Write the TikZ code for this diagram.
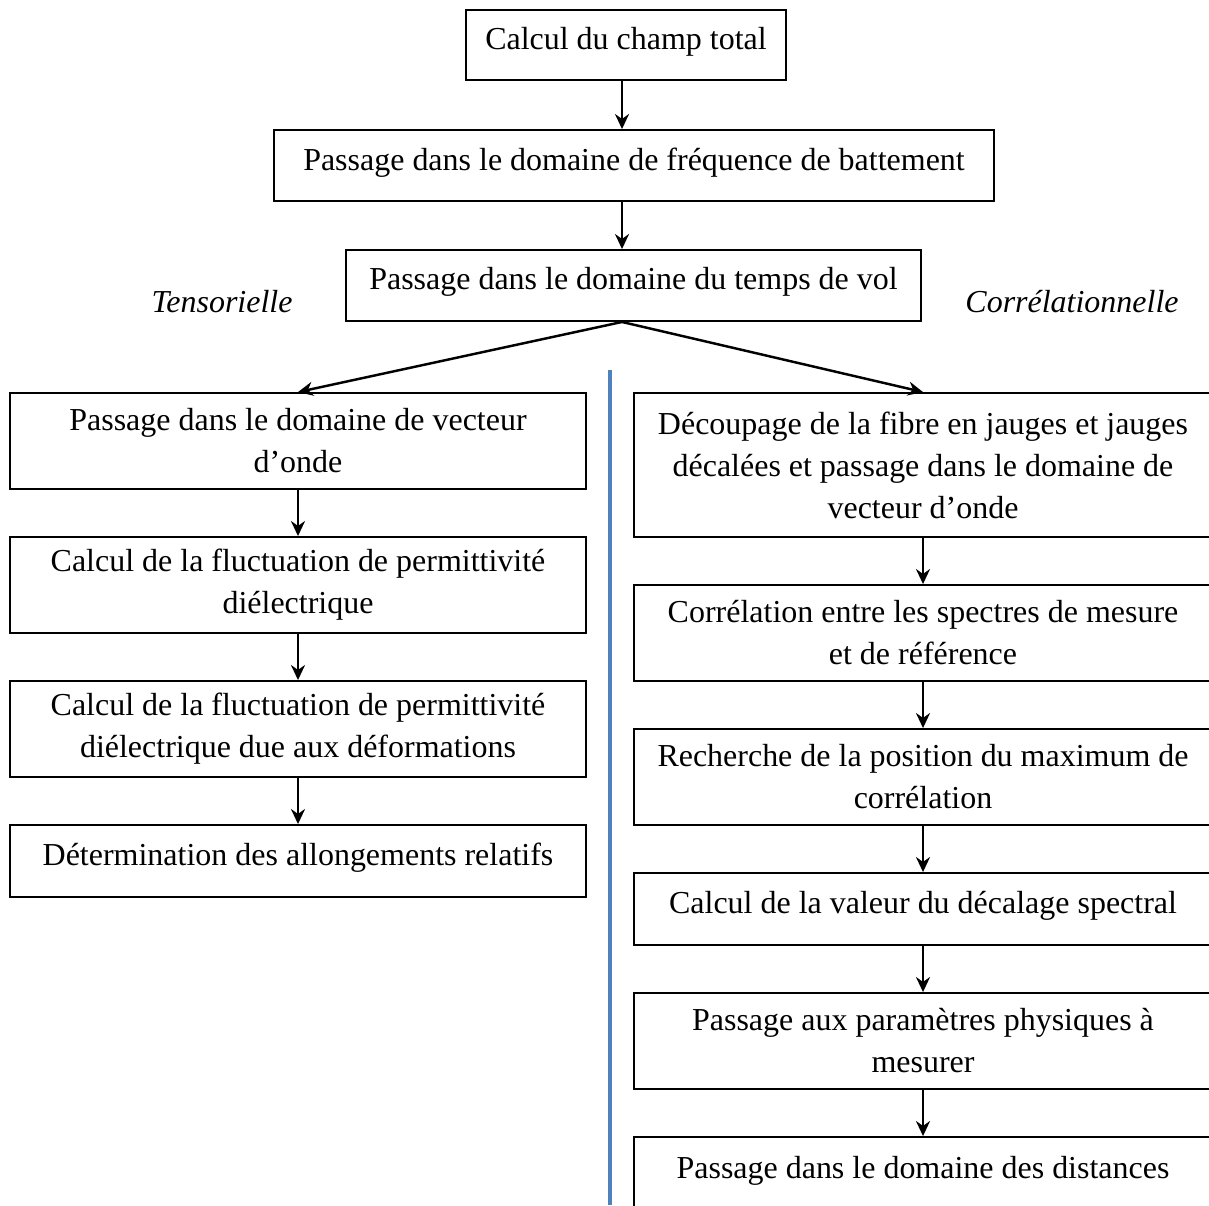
\documentclass[tikz,border=0pt]{standalone}
\usepackage{fontspec}
\setmainfont{Liberation Serif}
\usetikzlibrary{arrows.meta}
\definecolor{sepblue}{HTML}{4F81BD}
\tikzset{
    etape/.style={draw,line width=1.1pt,align=center,inner sep=0pt,font=\fontsize{18.2}{23.9}\selectfont},
    uneligne/.style={etape,text depth=0.27cm},
    fleche/.style={-{Stealth[length=0.3cm,width=0.28cm]},line width=1.4pt},
    methode/.style={font=\fontsize{18.2}{23.9}\selectfont\itshape}
}
\begin{document}
\begin{tikzpicture}[x=0.02cm,y=-0.02cm]
    \useasboundingbox (0,0) rectangle (1209,1205);
    \node[uneligne,minimum width=6.4cm,minimum height=1.4cm] (champ) at (626,45) {Calcul du champ total};
    \node[uneligne,minimum width=14.4cm,minimum height=1.42cm] (batt) at (634,165.5) {Passage dans le domaine de fréquence de battement};
    \node[uneligne,minimum width=11.5cm,minimum height=1.42cm] (vol) at (633.5,285.5) {Passage dans le domaine du temps de vol};
    \node[methode] (tens) at (222,302) {Tensorielle};
    \node[methode] (corr) at (1072,302) {Corrélationnelle};

    % branche tensorielle
    \node[etape,minimum width=11.52cm,minimum height=1.92cm] (l1) at (298,441) {Passage dans le domaine de vecteur\\d’onde};
    \node[etape,minimum width=11.52cm,minimum height=1.92cm] (l2) at (298,585) {Calcul de la fluctuation de permittivité\\diélectrique};
    \node[etape,minimum width=11.52cm,minimum height=1.92cm] (l3) at (298,729) {Calcul de la fluctuation de permittivité\\diélectrique due aux déformations};
    \node[uneligne,minimum width=11.52cm,minimum height=1.44cm] (l4) at (298,861) {Détermination des allongements relatifs};

    % branche correlationnelle
    \node[etape,minimum width=11.56cm,minimum height=2.88cm] (r1) at (923,465) {Découpage de la fibre en jauges et jauges\\décalées et passage dans le domaine de\\vecteur d’onde};
    \node[etape,minimum width=11.56cm,minimum height=1.92cm] (r2) at (923,633) {Corrélation entre les spectres de mesure\\et de référence};
    \node[etape,minimum width=11.56cm,minimum height=1.92cm] (r3) at (923,777) {Recherche de la position du maximum de\\corrélation};
    \node[uneligne,minimum width=11.56cm,minimum height=1.44cm] (r4) at (923,909) {Calcul de la valeur du décalage spectral};
    \node[etape,minimum width=11.56cm,minimum height=1.92cm] (r5) at (923,1041) {Passage aux paramètres physiques à\\mesurer};
    \node[uneligne,minimum width=11.56cm,minimum height=1.5cm] (r6) at (923,1174.5) {Passage dans le domaine des distances};

    \draw[sepblue,line width=2.8pt] (610,370) -- (610,1205);

    \coordinate (haut) at ([xshift=-0.08cm]champ.south);
    \coordinate (fourche) at ([xshift=-0.23cm]vol.south);
    \draw[fleche] (haut) -- (haut |- batt.north);
    \draw[fleche] (haut |- batt.south) -- (haut |- vol.north);
    \draw[fleche] (fourche) -- (l1.north);
    \draw[fleche] (fourche) -- (r1.north);
    \foreach \a/\b in {l1/l2,l2/l3,l3/l4,r1/r2,r2/r3,r3/r4,r4/r5,r5/r6} {
        \draw[fleche] (\a.south) -- (\b.north);
    }
\end{tikzpicture}
\end{document}
